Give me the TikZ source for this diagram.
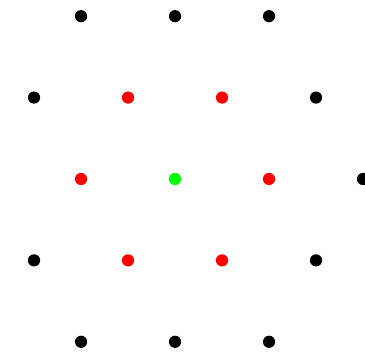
\documentclass[tikz,border=0pt]{standalone}
\usepackage{xcolor}
\usepackage{tikz}
\usetikzlibrary{positioning}

\begin{document}
\begin{tikzpicture}[
    x=1cm, y=1cm,
    dot/.style={
        circle,
        inner sep=0pt,
        minimum size=0.13cm
    },
    outer/.style={dot, fill=black},
    near/.style={dot, fill=red},
    origin/.style={dot, fill=green}
]
\useasboundingbox (-1.862,-1.840) rectangle (2.021,1.904);

% centre
\node[origin] (o) at (0,0) {};

% nearest neighbours
\node[near] (n1) at (0.5,0.866) {};
\node[near] (n2) at (-0.5,0.866) {};
\node[near] (n3) at (-1,0) {};
\node[near] (n4) at (-0.5,-0.866) {};
\node[near] (n5) at (0.5,-0.866) {};
\node[near] (n6) at (1,0) {};

% second ring
\node[outer] (s1) at (-1,1.732) {};
\node[outer] (s2) at (0,1.732) {};
\node[outer] (s3) at (1,1.732) {};
\node[outer] (s4) at (-1.5,0.866) {};
\node[outer] (s5) at (1.5,0.866) {};
\node[outer] (s6) at (2,0) {};
\node[outer] (s7) at (-1.5,-0.866) {};
\node[outer] (s8) at (1.5,-0.866) {};
\node[outer] (s9) at (-1,-1.732) {};
\node[outer] (s10) at (0,-1.732) {};
\node[outer] (s11) at (1,-1.732) {};

\end{tikzpicture}
\end{document}
